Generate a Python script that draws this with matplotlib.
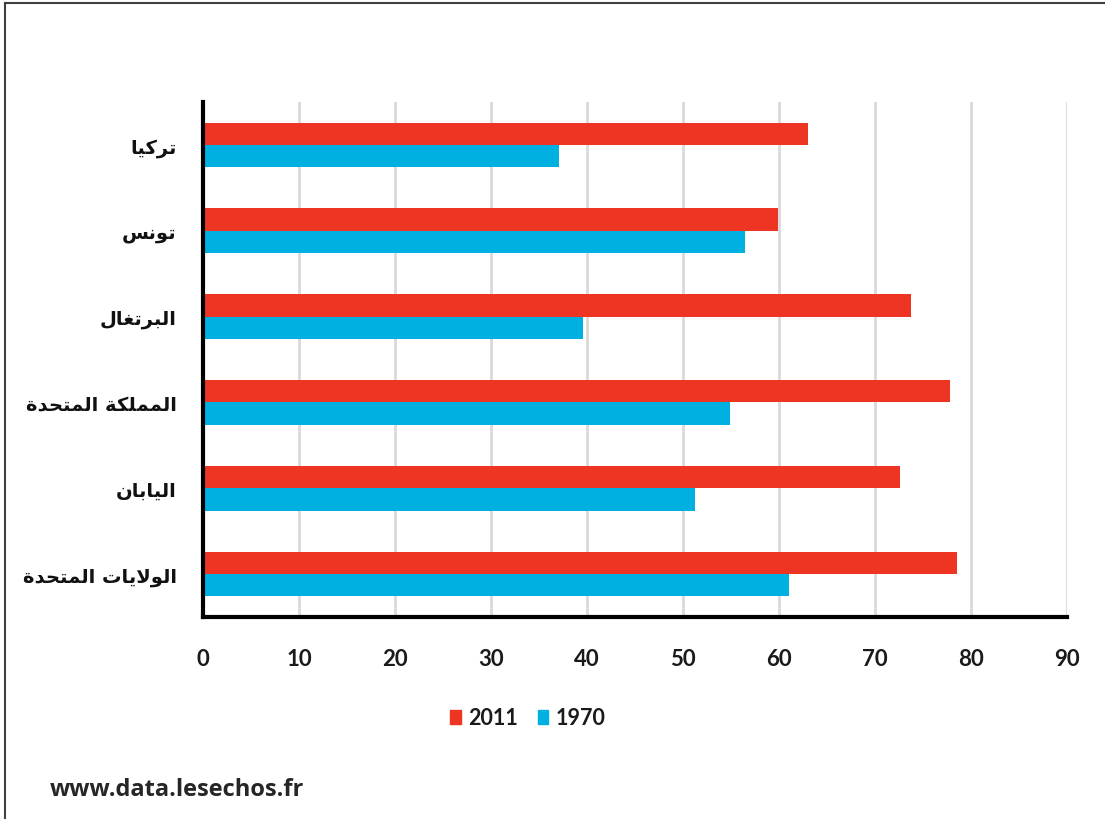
import matplotlib
matplotlib.use('Agg')
import numpy as np
import matplotlib.pyplot as plt
from matplotlib.lines import Line2D
from matplotlib.patches import Patch

# data
countries = ['تركيا', 'تونس', 'البرتغال', 'المملكة المتحدة', 'اليابان', 'الولايات المتحدة']
values_2011 = [63.0, 59.9, 73.7, 77.8, 72.6, 78.5]
values_1970 = [37.1, 56.5, 39.6, 54.9, 51.2, 61.0]
series_names = ['2011', '1970']
x_ticks = list(range(0, 100, 10))
source = 'www.data.lesechos.fr'

RED = '#ee3524'
BLUE = '#00b0e0'

# arabic presentation forms: isolated, final, initial, medial
FORMS = {
    'ا': ('\uFE8D', '\uFE8E', None, None),
    'ب': ('\uFE8F', '\uFE90', '\uFE91', '\uFE92'),
    'ة': ('\uFE93', '\uFE94', None, None),
    'ت': ('\uFE95', '\uFE96', '\uFE97', '\uFE98'),
    'ح': ('\uFEA1', '\uFEA2', '\uFEA3', '\uFEA4'),
    'د': ('\uFEA9', '\uFEAA', None, None),
    'ر': ('\uFEAD', '\uFEAE', None, None),
    'س': ('\uFEB1', '\uFEB2', '\uFEB3', '\uFEB4'),
    'غ': ('\uFECD', '\uFECE', '\uFECF', '\uFED0'),
    'ك': ('\uFED9', '\uFEDA', '\uFEDB', '\uFEDC'),
    'ل': ('\uFEDD', '\uFEDE', '\uFEDF', '\uFEE0'),
    'م': ('\uFEE1', '\uFEE2', '\uFEE3', '\uFEE4'),
    'ن': ('\uFEE5', '\uFEE6', '\uFEE7', '\uFEE8'),
    'و': ('\uFEED', '\uFEEE', None, None),
    'ي': ('\uFEF1', '\uFEF2', '\uFEF3', '\uFEF4'),
}


def joins_next(c):
    return c in FORMS and FORMS[c][2] is not None


def shape_arabic(text):
    """join letters and put them in visual (right to left) order"""
    out = []
    i = 0
    n = len(text)
    while i < n:
        c = text[i]
        if c not in FORMS:
            out.append(c)
            i += 1
            continue
        prev = text[i - 1] if i > 0 else ' '
        link_prev = joins_next(prev)
        if c == 'ل' and i + 1 < n and text[i + 1] == 'ا':
            out.append('\uFEFC' if link_prev else '\uFEFB')
            i += 2
            continue
        nxt = text[i + 1] if i + 1 < n else ' '
        link_next = joins_next(c) and nxt in FORMS
        iso, fin, ini, med = FORMS[c]
        if link_prev and link_next:
            out.append(med)
        elif link_prev:
            out.append(fin)
        elif link_next:
            out.append(ini)
        else:
            out.append(iso)
        i += 1
    return ''.join(reversed(out))


plt.rcParams['font.family'] = ['Lato', 'DejaVu Sans']
plt.rcParams['font.weight'] = 'bold'

fig = plt.figure(figsize=(11.05, 8.2), dpi=100)
ax = fig.add_axes([203 / 1105, 1 - 618 / 820, (1067 - 203) / 1105, (618 - 103) / 820])

y = np.arange(len(countries))
h = 0.26
ax.barh(y - h / 2, values_2011, height=h, color=RED, label=series_names[0], zorder=3)
ax.barh(y + h / 2, values_1970, height=h, color=BLUE, label=series_names[1], zorder=3)

ax.set_xlim(0, 90)
ax.set_ylim(len(countries) - 0.5, -0.5)
ax.set_xticks(x_ticks)
ax.set_xticklabels([str(t) for t in x_ticks], fontsize=16, fontweight='bold', color='#1a1a1a')
ax.set_yticks(y)
ax.set_yticklabels([shape_arabic(c) for c in countries], fontsize=14, fontweight='bold',
                   color='#111111', family=['DejaVu Sans'])
ax.tick_params(axis='x', length=0, pad=22)
ax.tick_params(axis='y', length=0, pad=19)

ax.grid(axis='x', color='#d9d9d9', lw=2, zorder=0)
for s in ['top', 'right']:
    ax.spines[s].set_visible(False)
ax.spines['left'].set_linewidth(3)
ax.spines['bottom'].set_linewidth(3)
ax.spines['left'].set_zorder(5)
ax.spines['bottom'].set_zorder(5)

handles = [Patch(color=RED), Patch(color=BLUE)]
fig.legend(handles, series_names, loc='center', bbox_to_anchor=(528 / 1105, 1 - 719 / 820),
           ncol=2, frameon=False, fontsize=15.5, handlelength=0.5, handleheight=0.65,
           handletextpad=0.35, columnspacing=0.9, labelcolor='#1a1a1a')

fig.text(50 / 1105, 1 - 790 / 820, source, fontsize=17, fontweight='bold',
         color='#262626', ha='left', va='center', family=['Open Sans'])

# frame around the picture
fig.add_artist(Line2D([5 / 1105, 5 / 1105], [0, 1 - 4 / 820], transform=fig.transFigure,
                      color='#404040', lw=1.5))
fig.add_artist(Line2D([5 / 1105, 1], [1 - 4 / 820, 1 - 4 / 820], transform=fig.transFigure,
                      color='#404040', lw=1.5))

fig.savefig('out.png', dpi=100)
